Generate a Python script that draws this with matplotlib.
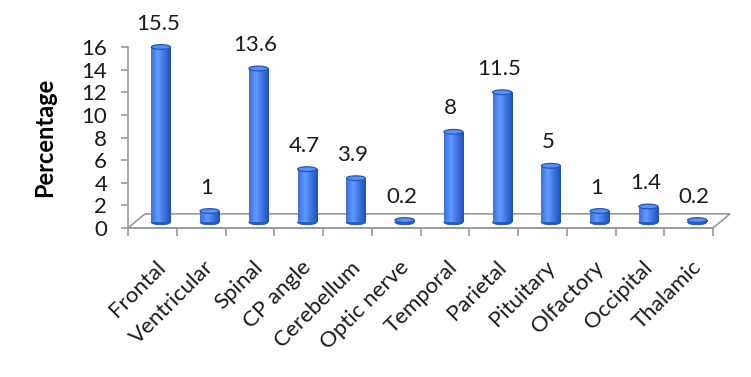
import numpy as np
import matplotlib
matplotlib.use("Agg")
from matplotlib import pyplot as plt
from matplotlib.patches import Ellipse, Polygon

plt.rcParams['font.family'] = ['Lato', 'DejaVu Sans']

# données du graphique
categories = ["Frontal", "Ventricular", "Spinal", "CP angle", "Cerebellum", "Optic nerve",
              "Temporal", "Parietal", "Pituitary", "Olfactory", "Occipital", "Thalamic"]
valeurs = [15.5, 1, 13.6, 4.7, 3.9, 0.2, 8, 11.5, 5, 1, 1.4, 0.2]
etiquettes = ["15.5", "1", "13.6", "4.7", "3.9", "0.2", "8", "11.5", "5", "1", "1.4", "0.2"]
graduations_y = [0, 2, 4, 6, 8, 10, 12, 14, 16]

# effet "3D" façon Excel
decal_x = 0.35      # profondeur du sol (en catégories)
decal_y = 1.25      # profondeur du sol (en unités y)
base = 0.5          # les cylindres sont posés au milieu du sol
largeur = 0.39
haut_ellipse = 0.42

gris = "#9a9a9a"
texte = "#1a1a1a"

fig = plt.figure(figsize=(7.51, 3.77), dpi=100)
ax = fig.add_axes([128 / 751, (377 - 228) / 377, 585 / 751, 181 / 377])

# le sol
sol = Polygon([(-0.5, 0), (11.5, 0), (11.5 + decal_x, decal_y), (-0.5 + decal_x, decal_y)],
              closed=True, facecolor="white", edgecolor=gris, linewidth=1.2, clip_on=False, zorder=1)
ax.add_patch(sol)

# dégradé horizontal pour les cylindres
degrade = np.linspace(0, 1, 64)
profil = 1 - np.abs(degrade - 0.35) * 1.6
profil = np.clip(profil, 0, 1)
c_sombre = np.array([0.12, 0.32, 0.75])
c_clair = np.array([0.38, 0.60, 1.0])
img = (c_sombre[None, :] + (c_clair - c_sombre)[None, :] * profil[:, None])[None, :, :]

xs = np.arange(len(categories)) + decal_x / 2
barres = ax.bar(xs, valeurs, bottom=base, width=largeur, color="none", edgecolor="none", zorder=3)

for x, v, b in zip(xs, valeurs, barres):
    # fond du cylindre
    ax.add_patch(Ellipse((x, base), largeur, haut_ellipse, facecolor="#2a5cc0",
                         edgecolor="#1f4fb0", linewidth=0.6, zorder=2.5, clip_on=False))
    im = ax.imshow(img, extent=[x - largeur / 2, x + largeur / 2, base, base + v],
                   aspect="auto", zorder=3, interpolation="bilinear")
    im.set_clip_path(b)
    # dessus du cylindre
    ax.add_patch(Ellipse((x, base + v), largeur, haut_ellipse, facecolor="#5a90f0",
                         edgecolor="#2256c0", linewidth=0.9, zorder=4, clip_on=False))

ax.set_xlim(-0.5, 11.5)
ax.set_ylim(0, 16)

# étiquettes de valeurs
for x, v, t in zip(xs, valeurs, etiquettes):
    ax.annotate(t, (x - 0.06, base + v + haut_ellipse / 2), xytext=(0, 8), textcoords="offset points",
                ha="center", va="bottom", fontsize=16, color=texte, zorder=5, annotation_clip=False)

# axes
for cote in ["top", "right", "bottom"]:
    ax.spines[cote].set_visible(False)
ax.spines["left"].set_color(gris)
ax.spines["left"].set_linewidth(1.2)
ax.set_yticks(graduations_y)
ax.tick_params(axis="y", colors=gris, labelcolor=texte, labelsize=16, length=5, width=1.2, pad=10)

ax.axhline(0, color=gris, linewidth=1.2, zorder=1.5, clip_on=False)
ax.set_xticks(np.arange(-0.5, 12, 1), minor=True)
ax.set_xticks(np.arange(len(categories)) + 0.05)
ax.set_xticklabels(categories, rotation=45, ha="right", rotation_mode="anchor", fontsize=16, color=texte)
ax.tick_params(axis="x", which="major", length=0, pad=21)
ax.tick_params(axis="x", which="minor", colors=gris, length=6, width=1.2)

ax.set_ylabel("Percentage", fontsize=17, fontweight="bold", labelpad=18)
ax.patch.set_visible(False)

fig.savefig("out.png", dpi=100)
